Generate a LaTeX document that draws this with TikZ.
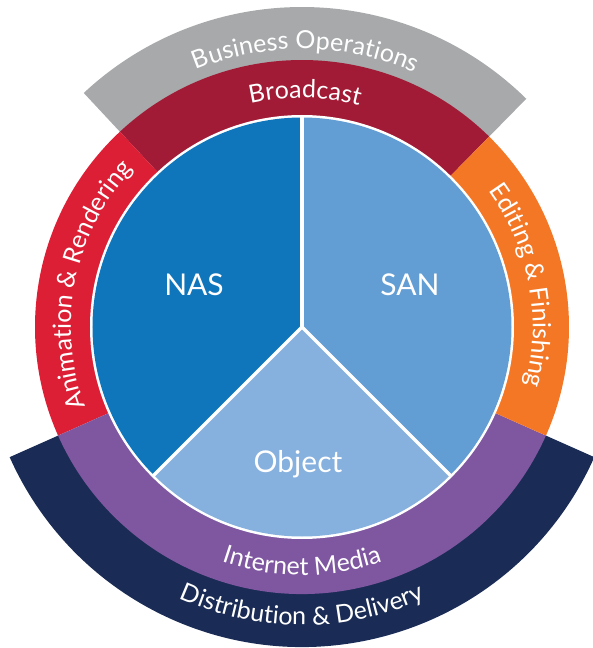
\documentclass[tikz,border=0pt]{standalone}
\usepackage{fontspec}
\setmainfont{Lato}
\usetikzlibrary{decorations.text}
\definecolor{opsgray}{RGB}{167,169,170}
\definecolor{bcastred}{RGB}{162,27,54}
\definecolor{animred}{RGB}{220,31,53}
\definecolor{editorange}{RGB}{243,119,37}
\definecolor{webpurple}{RGB}{127,87,161}
\definecolor{delivnavy}{RGB}{26,44,85}
\definecolor{nasblue}{RGB}{16,118,188}
\definecolor{sanblue}{RGB}{98,158,211}
\definecolor{objblue}{RGB}{134,176,221}
\newcommand{\ringfont}{\fontsize{25}{25}\selectfont}

\begin{document}
\begin{tikzpicture}[x=1pt, y=1pt,
  slicelabel/.style={text=white, font=\fontsize{30}{30}\selectfont, inner sep=0pt},
  ringtext/.style={decorate, decoration={text along path, text align=center,
    text color=white, text={|\ringfont|#1}}}]
\useasboundingbox (-302,-321) rectangle (290,327);
% Outer bands
\foreach \a/\b/\c in {45.5/133/opsgray, 204/336/delivnavy} {
  \fill[\c] (\a:266) arc[start angle=\a, end angle=\b, radius=266]
    -- (\b:320) arc[start angle=\b, end angle=\a, radius=320] -- cycle;
}
% Workflow ring
\foreach \a/\b/\c in {45.5/133/bcastred, 133/204/animred, 204/336/webpurple, 336/405.5/editorange} {
  \fill[\c] (\a:208) arc[start angle=\a, end angle=\b, radius=208]
    -- (\b:267) arc[start angle=\b, end angle=\a, radius=267] -- cycle;
}
% Storage pie
\fill[white] (0,0) circle (212);
\foreach \a/\b/\c in {90/225/nasblue, 225/315/objblue, 315/450/sanblue} {
  \fill[\c] (0,0) -- (\a:209.5) arc[start angle=\a, end angle=\b, radius=209.5] -- cycle;
}
\foreach \a in {90,225,315} {
  \draw[white, line width=3.5] (0,0) -- (\a:211);
}
% Labels
\node[slicelabel] (nas) at (-108,42) {NAS};
\node[slicelabel] (san) at (108,42) {SAN};
\node[slicelabel] (obj) at (-4,-137) {Object};
% Ring texts
\path[ringtext=Business Operations] (133:278) arc[start angle=133, end angle=45.5, radius=278];
\path[ringtext=Broadcast] (133:229) arc[start angle=133, end angle=45.5, radius=229];
\path[ringtext=Animation {\&} Rendering] (204:231) arc[start angle=204, end angle=133, radius=231];
\path[ringtext=Editing {\&} Finishing] (45.5:231) arc[start angle=45.5, end angle=-24, radius=231];
\path[ringtext=Internet Media] (204:248) arc[start angle=204, end angle=336, radius=248];
\path[ringtext=Distribution {\&} Delivery] (204:298) arc[start angle=204, end angle=336, radius=298];
\end{tikzpicture}
\end{document}
